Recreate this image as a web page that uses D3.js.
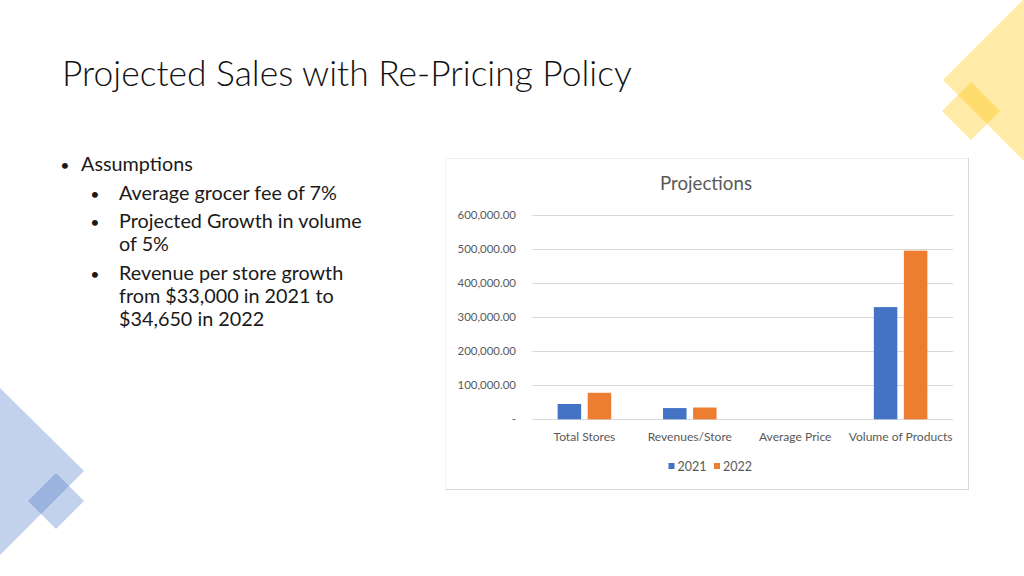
<!DOCTYPE html>
<html>
<head>
<meta charset="utf-8">
<script src="https://cdn.jsdelivr.net/npm/d3@7"></script>
<style>
  html, body { margin: 0; padding: 0; background: #ffffff; }
  svg { display: block; }
</style>
</head>
<body>
<svg id="slide" width="1024" height="576"></svg>
<script>
// ---------- DATA ----------
const categories = ["Total Stores", "Revenues/Store", "Average Price", "Volume of Products"];
const seriesNames = ["2021", "2022"];
const values2021 = [45000, 33000, 10, 330000];
const values2022 = [78000, 34650, 10.5, 496000];
const yTicks = [0, 100000, 200000, 300000, 400000, 500000, 600000];
const slideTitle = "Projected Sales with Re-Pricing Policy";
const chartTitle = "Projections";
const bulletMain = "Assumptions";
const bulletLines = [
  ["Average grocer fee of 7%"],
  ["Projected Growth in volume", "of 5%"],
  ["Revenue per store growth", "from $33,000 in 2021 to", "$34,650 in 2022"]
];
const colors = ["#4472C4", "#ED7D31"];

// ---------- SETUP ----------
const svg = d3.select("#slide");
const FONT = "Lato, 'Open Sans', 'Liberation Sans', sans-serif";

function fitWidth(sel, target) {
  const w = sel.node().getComputedTextLength();
  const fs = parseFloat(sel.attr("font-size"));
  const nfs = fs * target / w;
  sel.attr("font-size", nfs);
  return nfs;
}

// ---------- DECORATIVE SHAPES ----------
const deco = svg.append("g");
// yellow top-right
deco.append("polygon")
  .attr("points", [[943, 80], [1024, -1], [1105, 80], [1024, 161]].map(p => p.join(",")).join(" "))
  .attr("fill", "#FFC000").attr("fill-opacity", 0.34);
deco.append("polygon")
  .attr("points", [[971, 82], [1000, 111], [971, 140], [942, 111]].map(p => p.join(",")).join(" "))
  .attr("fill", "#FFC000").attr("fill-opacity", 0.34);
// blue bottom-left
deco.append("polygon")
  .attr("points", [[-1, 387], [84, 471], [-1, 556], [-86, 471]].map(p => p.join(",")).join(" "))
  .attr("fill", "#4472C4").attr("fill-opacity", 0.32);
deco.append("polygon")
  .attr("points", [[56, 473], [84, 501], [56, 529], [28, 501]].map(p => p.join(",")).join(" "))
  .attr("fill", "#4472C4").attr("fill-opacity", 0.32);

// ---------- SLIDE TEXT ----------
const t = svg.append("text")
  .attr("x", 62).attr("y", 86)
  .attr("font-family", FONT).attr("font-weight", 300)
  .attr("font-size", 32).attr("fill", "#111")
  .text(slideTitle);
fitWidth(t, 570);

const bulletColor = "#1a1a1a";
svg.append("text").attr("x", 65).attr("y", 171).attr("text-anchor", "middle")
  .attr("font-family", FONT).attr("font-size", 16).attr("fill", bulletColor).text("•");
const mainT = svg.append("text").attr("x", 81).attr("y", 171)
  .attr("font-family", FONT).attr("font-size", 18).attr("fill", bulletColor).text(bulletMain);

const lineYs = [[200], [227.5, 250.5], [279.5, 302.5, 325.5]];
// measure reference line for font size
const probe = svg.append("text").attr("font-family", FONT).attr("font-size", 18).text("Projected Growth in volume");
const subFs = fitWidth(probe, 243);
probe.remove();
mainT.attr("font-size", subFs);

bulletLines.forEach((lines, i) => {
  svg.append("text").attr("x", 95).attr("y", lineYs[i][0]).attr("text-anchor", "middle")
    .attr("font-family", FONT).attr("font-size", 16).attr("fill", bulletColor).text("•");
  lines.forEach((ln, j) => {
    svg.append("text").attr("x", 119).attr("y", lineYs[i][j])
      .attr("font-family", FONT).attr("font-size", subFs).attr("fill", bulletColor).text(ln);
  });
});

// ---------- CHART ----------
const box = { x: 445, y: 158, w: 524, h: 332 };
const cg = svg.append("g");
cg.append("rect").attr("x", box.x).attr("y", box.y).attr("width", box.w).attr("height", box.h)
  .attr("fill", "#ffffff");
cg.append("line").attr("x1", box.x).attr("x2", box.x + box.w).attr("y1", box.y + 0.5).attr("y2", box.y + 0.5)
  .attr("stroke", "#f0f0f0");
cg.append("line").attr("x1", box.x + 0.5).attr("x2", box.x + 0.5).attr("y1", box.y).attr("y2", box.y + box.h)
  .attr("stroke", "#f3f3f3");
cg.append("line").attr("x1", box.x + box.w - 0.5).attr("x2", box.x + box.w - 0.5).attr("y1", box.y).attr("y2", box.y + box.h)
  .attr("stroke", "#d9d9d9");
cg.append("line").attr("x1", box.x).attr("x2", box.x + box.w).attr("y1", box.y + box.h - 0.5).attr("y2", box.y + box.h - 0.5)
  .attr("stroke", "#d9d9d9");

const plot = { x0: 531.7, x1: 953.3, yTop: 215.3, yBot: 419.3 };
const y = d3.scaleLinear().domain([0, 600000]).range([plot.yBot, plot.yTop]);
const x = d3.scaleBand().domain(categories).range([plot.x0, plot.x1]).paddingInner(0).paddingOuter(0);
const barW = x.bandwidth() * 0.223;
const barGap = x.bandwidth() * 0.062;

// gridlines
cg.append("g").selectAll("line").data(yTicks).join("line")
  .attr("x1", plot.x0).attr("x2", plot.x1)
  .attr("y1", d => Math.round(y(d)) + 0.5).attr("y2", d => Math.round(y(d)) + 0.5)
  .attr("stroke", "#d9d9d9").attr("stroke-width", 1);

// y labels
const yAxis = d3.axisLeft(y).tickValues(yTicks).tickSize(0).tickPadding(0)
  .tickFormat(d => d === 0 ? "-" : d3.format(",.2f")(d));
const yg = cg.append("g").attr("transform", `translate(516,0)`).call(yAxis);
yg.select(".domain").remove();
yg.selectAll("text").attr("font-family", FONT).attr("font-size", 11).attr("fill", "#595959");
const yProbe = yg.selectAll("text").filter(d => d === 600000);
const yFs = fitWidth(yProbe, 58.5);
yg.selectAll("text").attr("font-size", yFs);

// bars
const seriesData = [values2021, values2022];
seriesData.forEach((vals, si) => {
  cg.append("g").selectAll("rect").data(vals).join("rect")
    .attr("x", (d, i) => x(categories[i]) + x.bandwidth() / 2 + (si === 0 ? -barGap / 2 - barW : barGap / 2))
    .attr("y", d => y(d))
    .attr("width", barW)
    .attr("height", d => y(0) - y(d))
    .attr("fill", colors[si]);
});

// x labels
const xAxis = d3.axisBottom(x).tickSize(0).tickPadding(0);
const xg = cg.append("g").attr("transform", `translate(0,441)`).call(xAxis);
xg.select(".domain").remove();
xg.selectAll("text").attr("dy", 0).attr("font-family", FONT).attr("font-size", 12).attr("fill", "#595959");
const xProbe = xg.selectAll("text").filter(d => d === "Volume of Products");
const xFs = fitWidth(xProbe, 104);
xg.selectAll("text").attr("font-size", xFs);

// chart title
const ct = cg.append("text").attr("x", 706).attr("y", 190).attr("text-anchor", "middle")
  .attr("font-family", FONT).attr("font-size", 18).attr("fill", "#595959").text(chartTitle);
fitWidth(ct, 92);

// legend
const legendX = [668.5, 714];
seriesNames.forEach((name, i) => {
  cg.append("rect").attr("x", legendX[i]).attr("y", 463).attr("width", 6).attr("height", 6).attr("fill", colors[i]);
  const lt = cg.append("text").attr("x", legendX[i] + 9).attr("y", 470.5)
    .attr("font-family", FONT).attr("font-size", 12).attr("fill", "#595959").text(name);
  fitWidth(lt, 29);
});
</script>
</body>
</html>
